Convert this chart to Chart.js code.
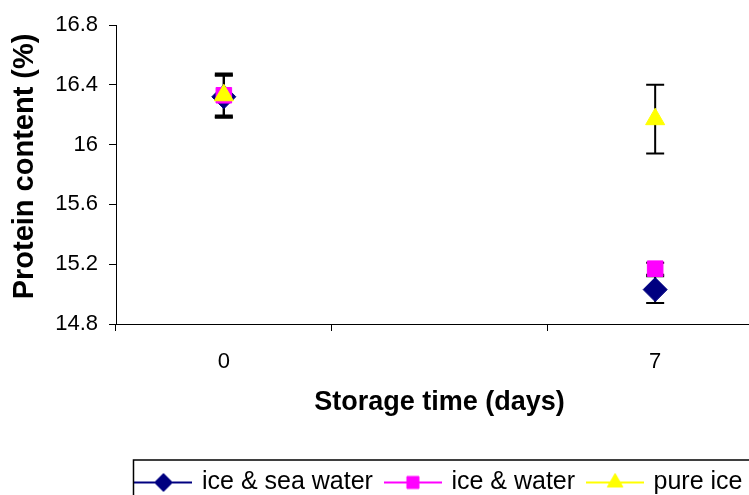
<!DOCTYPE html>
<html>
<head>
<meta charset="utf-8">
<script src="https://cdn.jsdelivr.net/npm/chart.js@4/dist/chart.umd.min.js"></script>
<style>
  html, body { margin: 0; padding: 0; background: #fff; overflow: hidden; }
  #wrap { width: 880px; height: 505px; }
</style>
</head>
<body>
<div id="wrap"><canvas id="chart" width="880" height="505"></canvas></div>
<script>
// 横轴类别（中间一格为空）
const xLabels = ['0', '', '7'];

// 纵轴刻度
const yTicks = [14.8, 15.2, 15.6, 16, 16.4, 16.8];

// 各组蛋白质含量 (%)
const seaWater = [16.32, null, 15.03];
const iceWater = [16.33, null, 15.17];
const pureIce = [16.33, null, 16.17];

// 误差（±）
const seaWaterErr = [0.14, null, 0.09];
const iceWaterErr = [0.135, null, 0.04];
const pureIceErr = [0.145, null, 0.23];

const FONT = "'Liberation Sans', Arial, sans-serif";

// 图例图标：横线 + 标记
function makeIcon(color, style, radius) {
  const c = document.createElement('canvas');
  c.width = 58;
  c.height = 26;
  const ctx = c.getContext('2d');
  ctx.strokeStyle = color;
  ctx.fillStyle = color;
  ctx.lineWidth = 2;
  ctx.beginPath();
  ctx.moveTo(0, 13);
  ctx.lineTo(58, 13);
  ctx.stroke();
  ctx.lineWidth = 1;
  Chart.helpers.drawPoint(ctx, { pointStyle: style, radius: radius, rotation: 0, borderWidth: 1 }, 29, 13);
  return c;
}

// 误差线插件（画在标记下面）
const errorBars = {
  id: 'errorBars',
  beforeDatasetsDraw(chart) {
    const ctx = chart.ctx;
    const y = chart.scales.y;
    ctx.save();
    ctx.strokeStyle = '#000';
    ctx.lineWidth = 2;
    chart.data.datasets.forEach((ds, i) => {
      const meta = chart.getDatasetMeta(i);
      meta.data.forEach((pt, j) => {
        const v = ds.data[j];
        const e = ds.errors[j];
        if (v == null || e == null) return;
        const top = y.getPixelForValue(v + e);
        const bot = y.getPixelForValue(v - e);
        ctx.beginPath();
        ctx.moveTo(pt.x, top);
        ctx.lineTo(pt.x, bot);
        ctx.moveTo(pt.x - 9, top);
        ctx.lineTo(pt.x + 9, top);
        ctx.moveTo(pt.x - 9, bot);
        ctx.lineTo(pt.x + 9, bot);
        ctx.stroke();
      });
    });
    ctx.restore();
  }
};

// 图例外框
const legendFrame = {
  id: 'legendFrame',
  afterDraw(chart) {
    const lg = chart.legend;
    const boxes = lg.legendHitBoxes;
    if (!boxes || !boxes.length) return;
    const last = boxes[boxes.length - 1];
    const left = boxes[0].left - 4;
    const right = last.left + last.width + 30;
    const ctx = chart.ctx;
    ctx.save();
    ctx.strokeStyle = '#000';
    ctx.lineWidth = 1.5;
    ctx.strokeRect(left, lg.top + 4, right - left, 100);
    ctx.restore();
  }
};

const icons = [
  makeIcon('#000080', 'rectRot', 9),
  makeIcon('#FF00FF', 'rect', 8.5),
  makeIcon('#FFFF00', 'triangle', 9)
];

// order 越小越靠上，黄色三角形画在最上层
function makeSet(label, data, errors, color, style, radius, order) {
  return {
    label: label,
    data: data,
    errors: errors,
    order: order,
    showLine: false,
    borderColor: color,
    backgroundColor: color,
    pointStyle: style,
    pointRadius: radius,
    pointHoverRadius: radius,
    pointBorderWidth: 1,
    pointBackgroundColor: color,
    pointBorderColor: color
  };
}

new Chart(document.getElementById('chart'), {
  type: 'line',
  data: {
    labels: xLabels,
    datasets: [
      makeSet('ice & sea water', seaWater, seaWaterErr, '#000080', 'rectRot', 12, 3),
      makeSet('ice & water', iceWater, iceWaterErr, '#FF00FF', 'rect', 11, 2),
      makeSet('pure ice', pureIce, pureIceErr, '#FFFF00', 'triangle', 11, 1)
    ]
  },
  options: {
    responsive: false,
    animation: false,
    devicePixelRatio: 1,
    layout: { padding: { top: 25, left: 0, right: 0, bottom: 0 } },
    plugins: {
      tooltip: { enabled: false },
      legend: {
        position: 'bottom',
        labels: {
          usePointStyle: true,
          pointStyleWidth: 52,
          padding: 14,
          color: '#000',
          font: { family: FONT, size: 25 },
          generateLabels(chart) {
            const items = Chart.defaults.plugins.legend.labels.generateLabels(chart);
            items.sort((a, b) => a.datasetIndex - b.datasetIndex);
            items.forEach(it => { it.pointStyle = icons[it.datasetIndex]; });
            return items;
          }
        }
      }
    },
    scales: {
      x: {
        type: 'category',
        offset: true,
        afterFit(scale) { scale.height = 132; },
        grid: { offset: true, drawOnChartArea: false, drawTicks: true, tickLength: 7, color: '#000' },
        border: { color: '#000', width: 1 },
        ticks: { padding: 18, color: '#000', font: { family: FONT, size: 22 } },
        title: {
          display: true,
          text: 'Storage time (days)',
          color: '#000',
          font: { family: FONT, size: 27, weight: 'bold' },
          padding: { top: 14, bottom: 37 }
        }
      },
      y: {
        min: 14.8,
        max: 16.8,
        afterFit(scale) { scale.width = 116; },
        afterBuildTicks(scale) { scale.ticks = yTicks.map(v => ({ value: v })); },
        grid: { drawOnChartArea: false, drawTicks: true, tickLength: 7, color: '#000' },
        border: { color: '#000', width: 1 },
        ticks: {
          padding: 11,
          color: '#000',
          font: { family: FONT, size: 22 },
          callback: v => String(v)
        },
        title: {
          display: true,
          text: '  Protein content (%)',
          color: '#000',
          font: { family: FONT, size: 29, weight: 'bold' },
          padding: { top: 8, bottom: 0 }
        }
      },
      // 右侧占位，使绘图区延伸到画面之外
      yr: {
        type: 'linear',
        position: 'right',
        afterFit(scale) { scale.width = 117; },
        grid: { display: false },
        border: { display: false },
        ticks: { display: false }
      }
    }
  },
  plugins: [errorBars, legendFrame]
});
</script>
</body>
</html>
